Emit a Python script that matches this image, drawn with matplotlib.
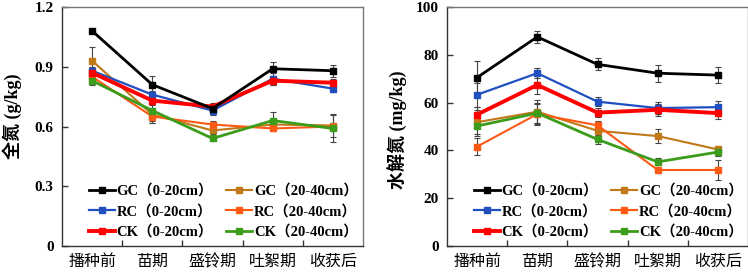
import numpy as np
import matplotlib.pyplot as plt
from matplotlib.ticker import FixedLocator

plt.rcParams['font.family'] = ['Liberation Serif', 'Noto Sans CJK SC']

stages = ['播种前', '苗期', '盛铃期', '吐絮期', '收获后']
labels = ['GC（0-20cm）', 'RC（0-20cm）', 'CK（0-20cm）',
          'GC（20-40cm）', 'RC（20-40cm）', 'CK（20-40cm）']
colors = ['#000000', '#1F4FC0', '#FF0000', '#C07818', '#FF5A14', '#3C9C1C']
widths = [2.0, 1.6, 2.8, 1.5, 1.5, 2.0]

# 全氮 (g/kg)
tn_gc1 = [1.08, 0.81, 0.69, 0.89, 0.88]
tn_rc1 = [0.88, 0.76, 0.68, 0.84, 0.79]
tn_ck1 = [0.87, 0.73, 0.70, 0.83, 0.82]
tn_gc2 = [0.93, 0.66, 0.58, 0.61, 0.605]
tn_rc2 = [0.85, 0.65, 0.61, 0.59, 0.60]
tn_ck2 = [0.83, 0.68, 0.54, 0.63, 0.59]
tn_err_gc1 = [0.01, 0.045, 0.02, 0.035, 0.03]
tn_err_rc1 = [0.02, 0.02, 0.02, 0.03, 0.015]
tn_err_ck1 = [0.02, 0.02, 0.02, 0.02, 0.02]
tn_err_gc2 = [0.07, 0.03, 0.02, 0.02, 0.06]
tn_err_rc2 = [0.02, 0.03, 0.02, 0.015, 0.02]
tn_err_ck2 = [0.02, 0.06, 0.015, 0.045, 0.07]

# 水解氮 (mg/kg)
hn_gc1 = [70.5, 87.5, 76.0, 72.3, 71.5]
hn_rc1 = [63.3, 72.3, 60.4, 57.7, 58.1]
hn_ck1 = [55.0, 67.4, 55.8, 57.0, 55.6]
hn_gc2 = [51.8, 56.2, 48.2, 46.0, 40.4]
hn_rc2 = [41.6, 55.2, 50.5, 31.8, 31.8]
hn_ck2 = [50.2, 55.6, 44.6, 35.2, 39.3]
hn_err_gc1 = [7.0, 2.5, 2.5, 3.5, 3.5]
hn_err_rc1 = [5.0, 2.0, 2.0, 2.5, 2.5]
hn_err_ck1 = [3.0, 4.0, 2.0, 2.5, 2.5]
hn_err_gc2 = [5.0, 5.0, 1.5, 3.0, 1.0]
hn_err_rc2 = [3.5, 4.5, 2.0, 1.0, 4.0]
hn_err_ck2 = [4.0, 4.0, 2.0, 1.5, 1.5]

tn = [tn_gc1, tn_rc1, tn_ck1, tn_gc2, tn_rc2, tn_ck2]
tn_err = [tn_err_gc1, tn_err_rc1, tn_err_ck1, tn_err_gc2, tn_err_rc2, tn_err_ck2]
hn = [hn_gc1, hn_rc1, hn_ck1, hn_gc2, hn_rc2, hn_ck2]
hn_err = [hn_err_gc1, hn_err_rc1, hn_err_ck1, hn_err_gc2, hn_err_rc2, hn_err_ck2]

fig = plt.figure(figsize=(7.48, 2.73), dpi=100)
ax1 = fig.add_axes([62/748, 27/273, 301/748, 239/273])
ax2 = fig.add_axes([447/748, 27/273, 301/748, 239/273])

x = np.arange(len(stages)) + 0.5
order = [3, 4, 5, 1, 2, 0]  # draw deep layers first, GC 0-20 on top


def draw(ax, data, errs, ylim, yticks, ylabel, fmt, label_pos):
    handles = [None] * 6
    for i in order:
        ax.errorbar(x, data[i], yerr=errs[i], color='#444444', fmt='none',
                    elinewidth=0.8, capsize=2, capthick=0.8, zorder=2)
        h, = ax.plot(x, data[i], color=colors[i], lw=widths[i], marker='s',
                     ms=5, zorder=3)
        handles[i] = h
    ax.set_xlim(0, 5)
    ax.set_ylim(*ylim)
    ax.set_yticks(yticks)
    ax.set_yticklabels([fmt(v) for v in yticks], fontsize=11, fontweight='bold')
    ax.xaxis.set_major_locator(FixedLocator([1, 2, 3, 4]))
    ax.xaxis.set_minor_locator(FixedLocator(x))
    ax.set_xticklabels([])
    ax.set_xticklabels(stages, minor=True, fontsize=11.5)
    ax.tick_params(axis='x', which='minor', length=0, pad=6)
    ax.tick_params(axis='both', which='major', direction='in', length=4,
                   width=1, color='#333333')
    ax.tick_params(axis='y', pad=6)
    for s in ['top', 'right']:
        ax.spines[s].set_color('#777777')
    for s in ['left', 'bottom']:
        ax.spines[s].set_color('#333333')
    for s in ax.spines.values():
        s.set_linewidth(1.0)
    ax.set_ylabel(ylabel, fontsize=13, fontweight='bold')
    ax.yaxis.set_label_coords(*label_pos)
    ax.legend(handles, labels, ncol=2, loc='lower left',
              bbox_to_anchor=(0.045, -0.025), frameon=False,
              prop={'size': 10.5, 'weight': 'bold'},
              handlelength=1.8, handletextpad=0.1, columnspacing=0.9,
              labelspacing=0.45)


draw(ax1, tn, tn_err, (0, 1.2), [0, 0.3, 0.6, 0.9, 1.2], '全氮 (g/kg)',
     lambda v: '0' if v == 0 else f'{v:.1f}', (-0.133, 0.544))
draw(ax2, hn, hn_err, (0, 100), [0, 20, 40, 60, 80, 100], '水解氮 (mg/kg)',
     lambda v: f'{v:.0f}', (-0.133, 0.485))

fig.savefig('out.png', dpi=100)
